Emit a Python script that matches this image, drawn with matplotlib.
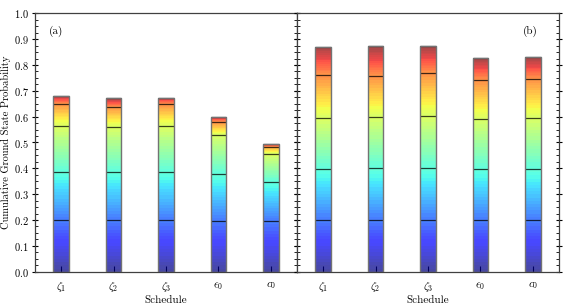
import numpy as np
import matplotlib
matplotlib.use("Agg")
import matplotlib.pyplot as plt
from matplotlib.ticker import MultipleLocator

plt.rcParams["font.family"] = "cmr10"
plt.rcParams["mathtext.fontset"] = "cm"
plt.rcParams["axes.formatter.use_mathtext"] = True

schedules = [r"$\zeta_1$", r"$\zeta_2$", r"$\zeta_3$", r"$\epsilon_0$", r"$c_0$"]

# cumulative ground state probability at the end of each of the 5 stages
cum_a = [
    [0.199, 0.387, 0.562, 0.649, 0.680],
    [0.199, 0.386, 0.561, 0.639, 0.673],
    [0.201, 0.387, 0.565, 0.649, 0.673],
    [0.198, 0.377, 0.529, 0.578, 0.599],
    [0.195, 0.348, 0.454, 0.484, 0.496],
]
cum_b = [
    [0.199, 0.397, 0.594, 0.760, 0.871],
    [0.199, 0.400, 0.598, 0.759, 0.875],
    [0.199, 0.400, 0.601, 0.768, 0.872],
    [0.199, 0.397, 0.592, 0.742, 0.826],
    [0.200, 0.396, 0.594, 0.746, 0.830],
]

cmap = plt.get_cmap("jet")
width = 0.3


def draw_panel(ax, cum, label, label_x):
    x = np.arange(1, len(cum) + 1)
    n_stage = len(cum[0])
    for xi, levels in zip(x, cum):
        lows = [0.0] + levels[:-1]
        for g, (lo, hi) in enumerate(zip(lows, levels)):
            bar = ax.bar(xi, hi - lo, bottom=lo, width=width, color="none",
                         edgecolor="none")[0]
            grad = np.linspace(g / n_stage, (g + 1) / n_stage, 16)[::-1, None]
            im = ax.imshow(grad, cmap=cmap, vmin=0, vmax=1, aspect="auto",
                           extent=[xi - width / 2, xi + width / 2, lo, hi],
                           alpha=0.72, interpolation="nearest", zorder=2)
            im.set_clip_path(bar)
            ax.hlines(hi, xi - width / 2, xi + width / 2, color="black",
                      lw=0.9, alpha=0.75, zorder=3)
        ax.bar(xi, levels[-1], width=width, fill=False, edgecolor="0.45",
               lw=1.0, zorder=4)
    ax.set_xlim(0.5, len(cum) + 0.5)
    ax.set_ylim(0, 1.0)
    ax.set_xticks(x)
    ax.set_xticklabels(schedules, fontsize=8)
    ax.yaxis.set_major_locator(MultipleLocator(0.1))
    ax.yaxis.set_minor_locator(MultipleLocator(0.025))
    ax.tick_params(axis="y", which="major", direction="inout", length=5,
                   left=True, right=True, labelsize=7.5, pad=2)
    ax.tick_params(axis="y", which="minor", direction="in", length=2.5,
                   left=True, right=True)
    ax.tick_params(axis="x", direction="in", length=4, top=False, pad=6)
    ax.set_xlabel("Schedule", fontsize=8, labelpad=1)
    ax.text(label_x, 0.93, label, fontsize=8, ha="center", va="center")
    for s in ax.spines.values():
        s.set_color("0.25")
        s.set_linewidth(0.9)


fig = plt.figure(figsize=(5.68, 3.07), dpi=100)
ax_a = fig.add_axes([35 / 568, 35.3 / 307, 262 / 568, 258.4 / 307])
ax_b = fig.add_axes([297 / 568, 35.3 / 307, 262 / 568, 258.4 / 307])

draw_panel(ax_a, cum_a, "(a)", 0.9)
draw_panel(ax_b, cum_b, "(b)", 4.96)
ax_a.set_ylabel("Cumulative Ground State Probability", fontsize=7.5, labelpad=2)
ax_b.tick_params(axis="y", labelleft=False)

fig.savefig("out.png", dpi=100)
plt.close(fig)
